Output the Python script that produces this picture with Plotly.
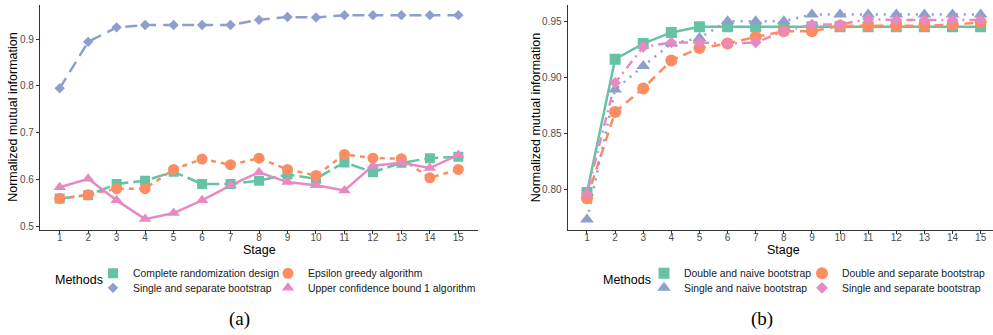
import plotly.graph_objects as go

W, H = 993, 335
stages = list(range(1, 16))

# Panel (a)
a_names = ["Complete randomization design", "Epsilon greedy algorithm",
           "Single and separate bootstrap", "Upper confidence bound 1 algorithm"]
a_complete = [0.560, 0.567, 0.591, 0.598, 0.617, 0.591, 0.591, 0.598, 0.611, 0.602, 0.637, 0.616, 0.636, 0.646, 0.649]
a_epsilon = [0.560, 0.568, 0.581, 0.581, 0.622, 0.644, 0.632, 0.646, 0.622, 0.609, 0.654, 0.646, 0.645, 0.604, 0.622]
a_single_sep = [0.795, 0.894, 0.925, 0.930, 0.930, 0.930, 0.930, 0.941, 0.947, 0.946, 0.951, 0.951, 0.951, 0.951, 0.951]
a_ucb = [0.584, 0.602, 0.556, 0.516, 0.529, 0.556, 0.588, 0.616, 0.595, 0.588, 0.577, 0.630, 0.636, 0.625, 0.653]

# Panel (b)
b_names = ["Double and naive bootstrap", "Double and separate bootstrap",
           "Single and naive bootstrap", "Single and separate bootstrap"]
b_double_naive = [0.797, 0.916, 0.930, 0.940, 0.945, 0.945, 0.945, 0.945, 0.945, 0.945, 0.945, 0.945, 0.945, 0.945, 0.945]
b_double_sep = [0.792, 0.869, 0.890, 0.915, 0.926, 0.930, 0.936, 0.941, 0.941, 0.946, 0.946, 0.946, 0.946, 0.947, 0.949]
b_single_naive = [0.773, 0.889, 0.910, 0.930, 0.935, 0.950, 0.950, 0.950, 0.956, 0.956, 0.956, 0.956, 0.956, 0.956, 0.956]
b_single_sep = [0.796, 0.895, 0.927, 0.931, 0.931, 0.930, 0.931, 0.941, 0.947, 0.947, 0.952, 0.951, 0.951, 0.951, 0.951]

colors = ["#66C2A5", "#FC8D62", "#8DA0CB", "#E78AC3"]

a_series = [a_complete, a_epsilon, a_single_sep, a_ucb]
a_symbols = ["square", "circle", "diamond", "triangle-up"]
a_sizes = [10, 11, 8, 11]
a_dash = ["14px,5px", "5px,5px", "12px,7px", "solid"]

b_series = [b_double_naive, b_double_sep, b_single_naive, b_single_sep]
b_symbols = ["square", "circle", "triangle-up", "diamond"]
b_sizes = [11, 12, 12, 9]
b_dash = ["solid", "9px,6px", "2px,6px", "2px,5px,9px,5px"]

fig = go.Figure()

def px(x):
    return x / W

def py(y):
    return 1 - y / H

# legend positions: (legend marker centre x, row y)
a_leg_pos = [(113, 275), (288, 275), (113, 289.6), (288, 289.6)]
b_leg_pos = [(664, 275), (822, 275), (664, 289.6), (822, 289.6)]

legends = {}
for panel, series, names, symbols, sizes, dashes, xa, ya, pos, base in [
    ("a", a_series, a_names, a_symbols, a_sizes, a_dash, "x", "y", a_leg_pos, 0),
    ("b", b_series, b_names, b_symbols, b_sizes, b_dash, "x2", "y2", b_leg_pos, 4),
]:
    for i, s in enumerate(series):
        fig.add_trace(go.Scatter(x=stages, y=s, mode="lines", xaxis=xa, yaxis=ya,
                                 line=dict(color=colors[i], width=2.5, dash=dashes[i]),
                                 showlegend=False, hoverinfo="skip"))
    for i, s in enumerate(series):
        lname = "legend" if base + i == 0 else f"legend{base + i + 1}"
        fig.add_trace(go.Scatter(x=stages, y=s, mode="markers", xaxis=xa, yaxis=ya,
                                 name=names[i], legend=lname,
                                 marker=dict(color=colors[i], symbol=symbols[i], size=sizes[i]),
                                 showlegend=True))
        mx, my = pos[i]
        legends[lname] = dict(x=px(mx - 20), y=py(my), xanchor="left", yanchor="middle",
                              orientation="v", bgcolor="rgba(0,0,0,0)", borderwidth=0,
                              font=dict(family="Liberation Sans, Arial, sans-serif", size=10.4, color="#1a1a1a"),
                              itemsizing="trace")

tickfont = dict(family="Liberation Sans, Arial, sans-serif", size=10, color="#4D4D4D")
axis_common = dict(showgrid=False, zeroline=False, showline=True, linecolor="#333333", linewidth=1.3,
                   ticks="outside", ticklen=3, tickcolor="#333333", tickwidth=1, tickfont=tickfont)

fig.update_layout(
    width=W, height=H, margin=dict(l=0, r=0, t=0, b=0),
    plot_bgcolor="white", paper_bgcolor="white",
    xaxis=dict(domain=[px(40), px(478)], range=[0.308, 15.69], anchor="y", ticklabelstandoff=-5,
               tickmode="array", tickvals=stages, ticktext=[str(s) for s in stages], **axis_common),
    yaxis=dict(domain=[py(231), py(5)], range=[0.4936, 0.9727], anchor="x",
               tickmode="array", tickvals=[0.5, 0.6, 0.7, 0.8, 0.9], ticktext=["0.5", "0.6", "0.7", "0.8", "0.9"], **axis_common),
    xaxis2=dict(domain=[px(567.7), 1.0], range=[0.314, 15.44], anchor="y2", ticklabelstandoff=-5,
                tickmode="array", tickvals=stages, ticktext=[str(s) for s in stages], **axis_common),
    yaxis2=dict(domain=[py(231), py(5)], range=[0.7639, 0.9645], anchor="x2",
                tickmode="array", tickvals=[0.80, 0.85, 0.90, 0.95], ticktext=["0.80", "0.85", "0.90", "0.95"], **axis_common),
    **legends,
)

title_font = dict(family="Liberation Sans, Arial, sans-serif", size=12.5, color="black")
cap_font = dict(family="Liberation Serif, Times New Roman, serif", size=19, color="black")
ann = [
    dict(text="Normalized mutual information", x=px(13.5), y=py(118), textangle=-90, font=title_font),
    dict(text="Normalized mutual information", x=px(536), y=py(118), textangle=-90, font=title_font),
    dict(text="Stage", x=px(259), y=py(251.5), font=title_font),
    dict(text="Stage", x=px(783), y=py(251.5), font=title_font),
    dict(text="Methods", x=px(79), y=py(281.5), font=title_font),
    dict(text="Methods", x=px(627), y=py(281.5), font=title_font),
    dict(text="(a)", x=px(239.5), y=py(321), font=cap_font),
    dict(text="(b)", x=px(761.7), y=py(321), font=cap_font),
]
for a in ann:
    a.update(xref="paper", yref="paper", showarrow=False, xanchor="center", yanchor="middle")
fig.update_layout(annotations=ann)

fig.write_html("out.html")
